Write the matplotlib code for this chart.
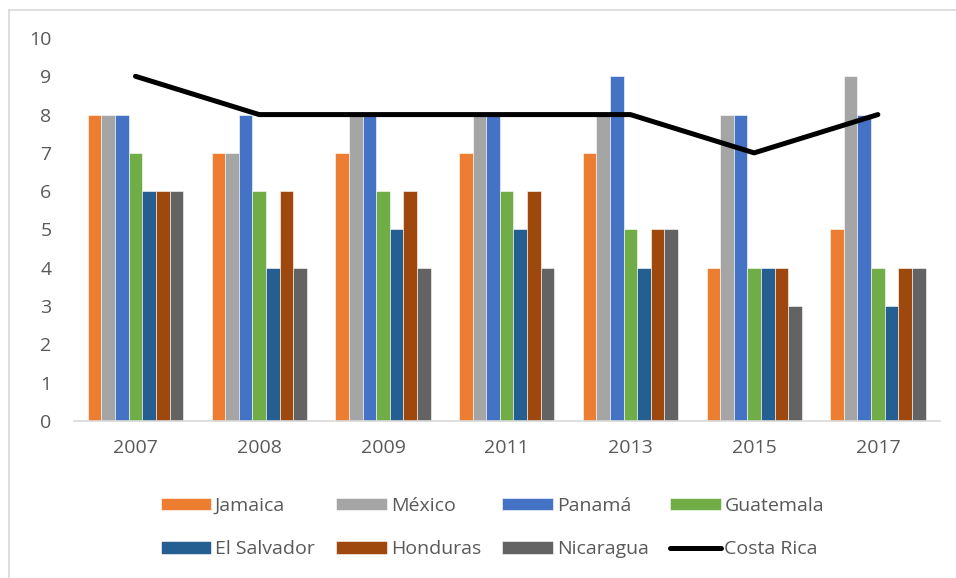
import numpy as np
import matplotlib.pyplot as plt
from matplotlib.lines import Line2D

plt.rcParams['font.family'] = ['Open Sans', 'DejaVu Sans']

# Datos
years = ['2007', '2008', '2009', '2011', '2013', '2015', '2017']
jamaica = [8, 7, 7, 7, 7, 4, 5]
mexico = [8, 7, 8, 8, 8, 8, 9]
panama = [8, 8, 8, 8, 9, 8, 8]
guatemala = [7, 6, 6, 6, 5, 4, 4]
el_salvador = [6, 4, 5, 5, 4, 4, 3]
honduras = [6, 6, 6, 6, 5, 4, 4]
nicaragua = [6, 4, 4, 4, 5, 3, 4]
costa_rica = [9, 8, 8, 8, 8, 7, 8]

series = [
    ('Jamaica', jamaica, '#ED7D31'),
    ('México', mexico, '#A5A5A5'),
    ('Panamá', panama, '#4472C4'),
    ('Guatemala', guatemala, '#70AD47'),
    ('El Salvador', el_salvador, '#255E91'),
    ('Honduras', honduras, '#9E480E'),
    ('Nicaragua', nicaragua, '#636363'),
]

fig = plt.figure(figsize=(9.56, 5.78), dpi=100)
ax = fig.add_axes([0.077, 0.2716, 0.906, 0.6627])

x = np.arange(len(years))
n = len(series)
bw = 0.77 / n
handles = []
for i, (name, vals, col) in enumerate(series):
    b = ax.bar(x + (i - (n - 1) / 2) * bw, vals, bw, color=col,
               edgecolor='white', linewidth=0.4, label=name)
    handles.append(b)

line, = ax.plot(x, costa_rica, color='black', linewidth=3.6,
                solid_capstyle='round', solid_joinstyle='round', label='Costa Rica')
handles.append(line)

ax.set_xlim(-0.5, len(years) - 0.5)
ax.set_ylim(0, 10)
ax.set_yticks(range(0, 11))
ax.set_xticks(x)
ax.set_xticklabels(years)
for s in ['top', 'right', 'left']:
    ax.spines[s].set_visible(False)
ax.spines['bottom'].set_color('#D9D9D9')
ax.spines['bottom'].set_linewidth(1.2)
ax.tick_params(axis='both', length=0, labelsize=14, colors='#595959')
ax.tick_params(axis='x', pad=13)
ax.tick_params(axis='y', pad=16)

# orden por columnas para que las filas queden como en el original
order = [0, 4, 1, 5, 2, 6, 3, 7]
labels = [h.get_label() for h in handles]
leg = fig.legend([handles[k] for k in order], [labels[k] for k in order],
                 ncol=4, loc='center', bbox_to_anchor=(0.515, 0.087),
                 frameon=False, fontsize=14, handlelength=2.6, handleheight=0.6,
                 handletextpad=0.2, columnspacing=1.1, labelspacing=1.3)
for t in leg.get_texts():
    t.set_color('#595959')

# borde del gráfico
fig.add_artist(Line2D([9 / 956, 9 / 956], [0, 1 - 10 / 578], color='#D9D9D9', lw=1.2))
fig.add_artist(Line2D([9 / 956, 1], [1 - 10 / 578, 1 - 10 / 578], color='#D9D9D9', lw=1.2))

fig.savefig('out.png', dpi=100)
